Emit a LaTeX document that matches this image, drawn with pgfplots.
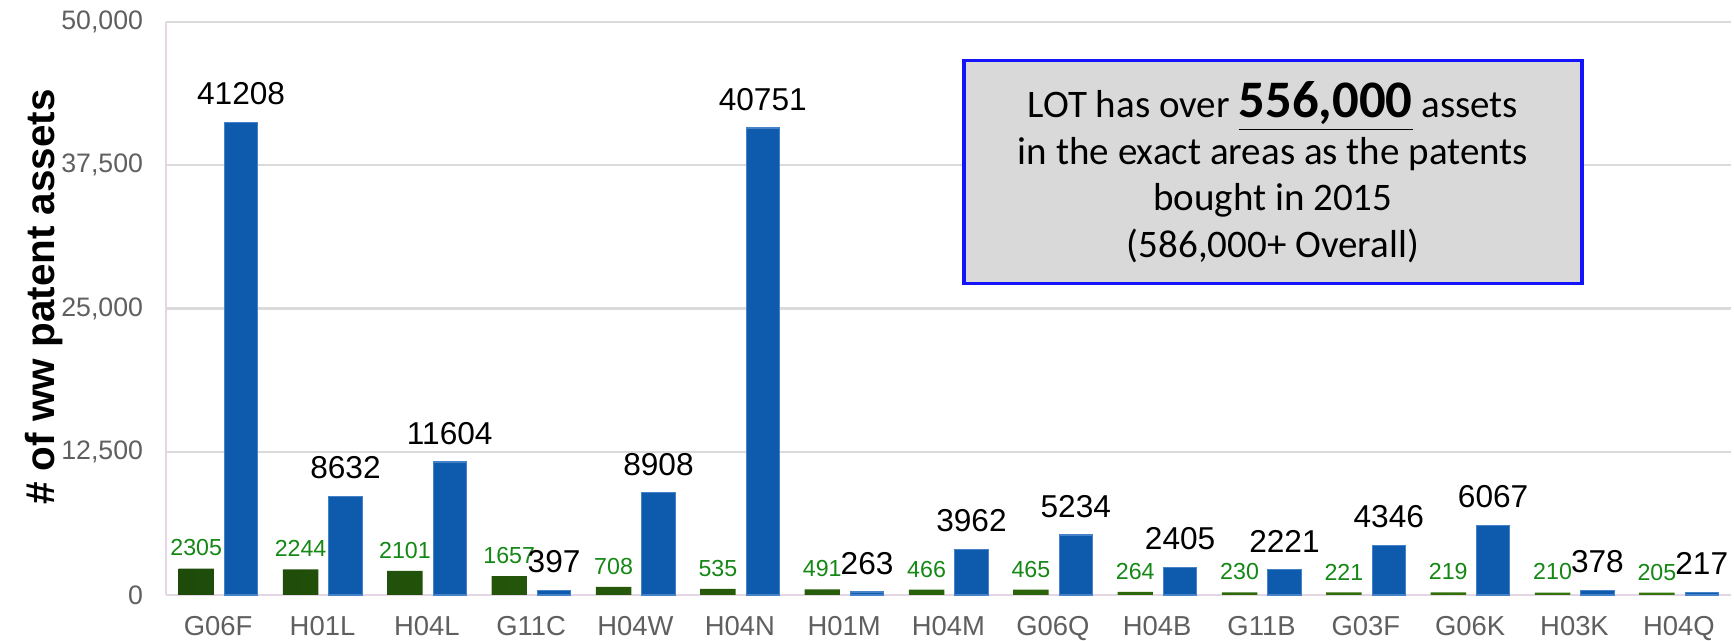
\documentclass[border=0pt]{standalone}
\usepackage{pgfplots}
\usepackage{pgfplotstable}
\pgfplotsset{compat=1.18}
\usepackage{fontspec}
\setmainfont{Liberation Sans}
\newfontfamily\carlito{Carlito}
\definecolor{barblue}{RGB}{14,90,172}
\definecolor{barblueedge}{RGB}{70,130,200}
\definecolor{greenA}{RGB}{30,75,10}
\definecolor{greenB}{RGB}{52,118,10}
\definecolor{lblgreen}{RGB}{20,135,20}
\definecolor{tickgray}{RGB}{95,95,95}
\definecolor{gridgray}{RGB}{218,218,218}
\definecolor{axispurple}{RGB}{228,214,228}
\definecolor{boxblue}{RGB}{20,20,250}
\definecolor{boxgray}{RGB}{217,217,217}

\pgfplotstableread{
x green blue
0 2305 41208
1 2244 8632
2 2101 11604
3 1657 397
4 708 8908
5 535 40751
6 491 263
7 466 3962
8 465 5234
9 264 2405
10 230 2221
11 221 4346
12 219 6067
13 210 378
14 205 217
}\patents

\begin{document}
\begin{tikzpicture}
\useasboundingbox (0,0) rectangle (17.34cm,6.41cm);
\begin{axis}[
    at={(1.66cm,0.46cm)}, anchor=south west,
    scale only axis, width=15.65cm, height=5.73cm,
    xmin=-0.5, xmax=14.5, ymin=0, ymax=50000,
    ytick={0,12500,25000,37500,50000},
    scaled y ticks=false,
    /pgf/number format/.cd, 1000 sep={,}, assume math mode=true, /pgfplots/.cd,
    xtick={0,...,14},
    xticklabels={G06F,H01L,H04L,G11C,H04W,H04N,H01M,H04M,G06Q,H04B,G11B,G03F,G06K,H03K,H04Q},
    major tick length=0pt,
    axis x line*=bottom, axis y line*=left,
    axis line style={axispurple, line width=0.7pt},
    ymajorgrids, grid style={gridgray, line width=0.6pt},
    ticklabel style={text=tickgray},
    xticklabel style={font=\fontsize{7.8}{8}\selectfont, yshift=-2.5pt},
    yticklabel style={font=\fontsize{7.6}{8}\selectfont, xshift=-3pt},
    ylabel={\# of ww patent assets},
    ylabel style={at={(axis description cs:-0.078,0.52)}, anchor=center,
        font=\fontsize{11.5}{12}\selectfont\bfseries},
    clip=false,
    nodes near coords style={/pgf/number format/1000 sep={}},
]
\addplot[ybar, bar width=0.34, bar shift=0pt, draw=none,
    left color=greenA, right color=greenB,
    nodes near coords, every node near coord/.append style={font=\fontsize{6.6}{7}\selectfont, text=lblgreen}]
    table[x expr=\thisrow{x}-0.21, y=green] {\patents};
\addplot[ybar, bar width=0.32, bar shift=0pt, fill=barblue, draw=barblueedge, line width=0.3pt,
    nodes near coords, every node near coord/.append style={font=\fontsize{9}{9}\selectfont, text=black, yshift=1.5pt}]
    table[x expr=\thisrow{x}+0.22, y=blue] {\patents};
\node[draw=boxblue, line width=1pt, fill=boxgray, align=center,
    minimum width=6.18cm, minimum height=2.23cm,
    font=\carlito\fontsize{11.1}{13.3}\selectfont]
    at (axis cs:10.11,36900)
    {LOT has over {\fontsize{15}{14}\selectfont\bfseries\underline{556,000}} assets\\
     in the exact areas as the patents\\
     bought in 2015\\
     (586,000+ Overall)};
\end{axis}
\end{tikzpicture}
\end{document}
